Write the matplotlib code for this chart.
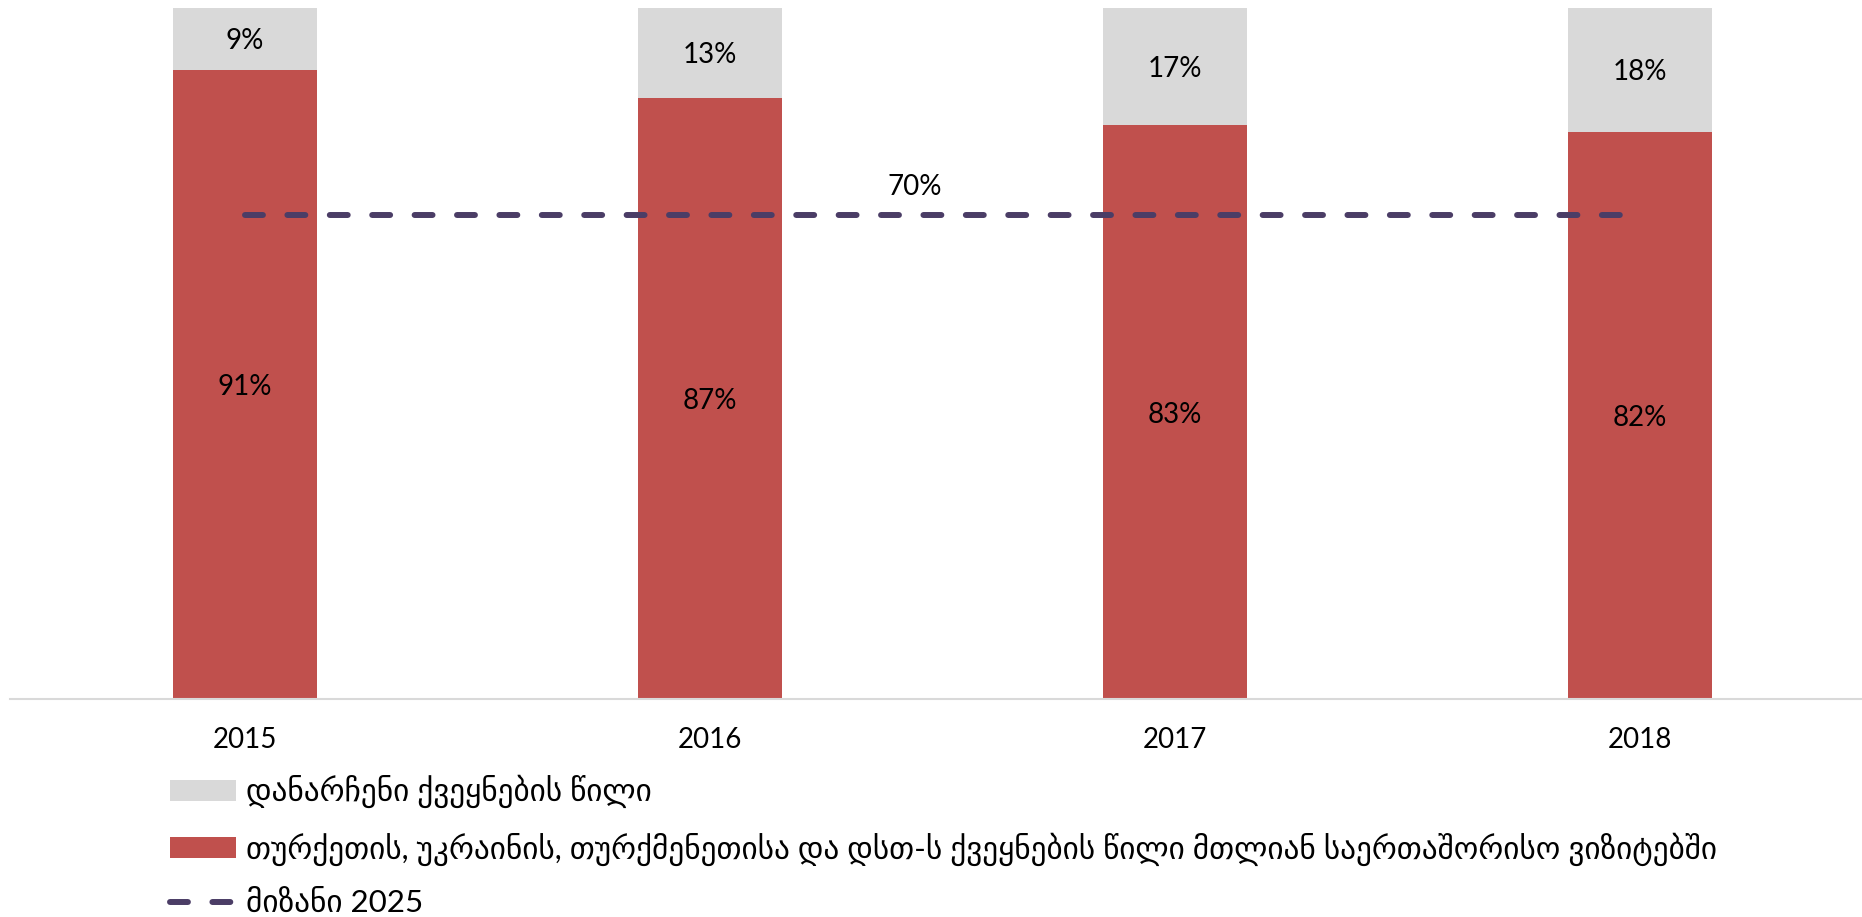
import matplotlib
matplotlib.use("Agg")
import matplotlib.pyplot as plt
from matplotlib.patches import Patch
from matplotlib.lines import Line2D

plt.rcParams['font.family'] = ['Lato', 'DejaVu Sans']

years = ['2015', '2016', '2017', '2018']
main_share = [91, 87, 83, 82]
other_share = [9, 13, 17, 18]
target = 70
target_label = '70%'

lbl_other = 'დანარჩენი ქვეყნების წილი'
lbl_main = 'თურქეთის, უკრაინის, თურქმენეთისა და დსთ-ს ქვეყნების წილი მთლიან საერთაშორისო ვიზიტებში'
lbl_target = 'მიზანი 2025'

RED = '#C0504D'
GREY = '#D9D9D9'
PURPLE = '#4B3D66'

W, H = 1862, 917
fig = plt.figure(figsize=(W / 100, H / 100), dpi=100)
ax = fig.add_axes([10 / W, 1 - 699 / H, 1 - 10 / W, (699 - 8) / H])

x = list(range(len(years)))
bw = 0.31
ax.bar(x, main_share, width=bw, color=RED, zorder=2)
ax.bar(x, other_share, width=bw, bottom=main_share, color=GREY, zorder=2)

for xi, m, o in zip(x, main_share, other_share):
    ax.text(xi, m / 2 - 0.4, f'{m}%', ha='center', va='center', fontsize=20, color='black', zorder=4)
    ax.text(xi, m + o / 2 - 0.3, f'{o}%', ha='center', va='center', fontsize=20, color='black', zorder=4)

ax.plot([x[0], x[-1]], [target, target], color=PURPLE, lw=4.3,
        dashes=[3.0, 4.1], dash_capstyle='round', zorder=3)
ax.text(1.44, target + 4.1, target_label, ha='center', va='center', fontsize=20, color='black')

ax.set_xlim(-0.505, 3.477)
ax.set_ylim(0, 100)
for s in ['top', 'right', 'left']:
    ax.spines[s].set_visible(False)
ax.spines['bottom'].set_color('#D9D9D9')
ax.spines['bottom'].set_linewidth(1.5)
ax.set_yticks([])
ax.set_xticks(x)
ax.set_xticklabels(years, fontsize=20)
ax.tick_params(axis='x', length=0, pad=20)

handles = [Patch(facecolor=GREY, edgecolor='none'),
           Patch(facecolor=RED, edgecolor='none'),
           Line2D([0], [0], color=PURPLE, lw=4.3, dashes=[3.0, 4.1], dash_capstyle='round')]
leg = fig.legend(handles, [lbl_other, lbl_main, lbl_target], loc='upper left',
                 bbox_to_anchor=(170 / W, 1 - 775 / H), frameon=False, fontsize=22.5,
                 handlelength=2.1, handleheight=0.65, handletextpad=0.33, labelspacing=0.76,
                 borderpad=0, borderaxespad=0)

fig.savefig('out.png', dpi=100, facecolor='white')
